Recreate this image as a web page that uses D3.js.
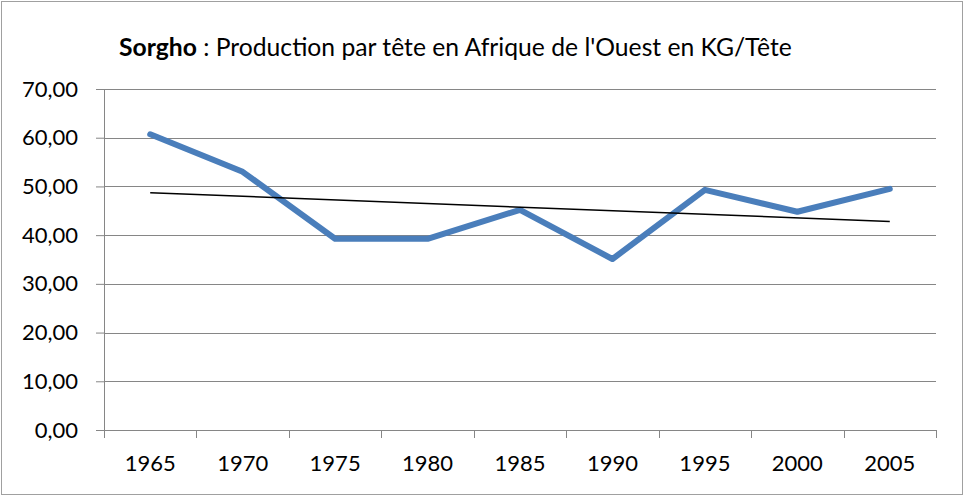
<!DOCTYPE html>
<html>
<head>
<meta charset="utf-8">
<script src="https://cdn.jsdelivr.net/npm/d3@7"></script>
<style>
  body { margin: 0; background: #fff; }
  text { font-family: Lato, "Open Sans", sans-serif; fill: #000; }
  .grid line { stroke: #868686; stroke-width: 1; }
  .axis path, .axis line { stroke: #868686; stroke-width: 1; }
  .axis text { font-size: 22px; }
</style>
</head>
<body>
<script>
//// DATA
var years = ["1965", "1970", "1975", "1980", "1985", "1990", "1995", "2000", "2005"];
var production = [60.7, 53.0, 39.25, 39.25, 45.2, 35.1, 49.3, 44.8, 49.5];
// Trendline end points (first and last year)
var trendYears = ["1965", "2005"];
var trendValues = [48.7, 42.8];
var yTicks = [0, 10, 20, 30, 40, 50, 60, 70];

//// DIMENSIONS
var W = 965, H = 496;
var margin = {top: 89, right: 29, bottom: 66, left: 104},
    width = W - margin.left - margin.right,
    height = H - margin.top - margin.bottom;

var svg = d3.select("body").append("svg")
    .attr("width", W)
    .attr("height", H);

// Outer border
svg.append("rect")
    .attr("x", 1.5).attr("y", 1.5)
    .attr("width", W - 4).attr("height", H - 3)
    .attr("fill", "none")
    .attr("stroke", "#a0a0a0")
    .attr("stroke-width", 1);

var g = svg.append("g")
    .attr("transform", "translate(" + margin.left + "," + margin.top + ")");

// Scales
var x = d3.scaleBand().domain(years).range([0, width]);
var y = d3.scaleLinear().domain([0, 70]).range([height, 0]);
var fmt = function(d) { return d3.format(".2f")(d).replace(".", ","); };

// Gridlines
g.append("g")
    .attr("class", "grid")
  .selectAll("line")
    .data(yTicks.filter(function(d) { return d > 0; }))
  .enter().append("line")
    .attr("x1", 0)
    .attr("x2", width)
    .attr("y1", function(d) { return Math.round(y(d)) + 0.5; })
    .attr("y2", function(d) { return Math.round(y(d)) + 0.5; });

// Y axis
var yAxis = g.append("g")
    .attr("class", "axis y")
    .call(d3.axisLeft(y).tickValues(yTicks).tickFormat(fmt).tickSize(8).tickSizeOuter(0).tickPadding(18));

// X axis with ticks on category boundaries
var xAxis = g.append("g")
    .attr("class", "axis x")
    .attr("transform", "translate(0," + height + ")")
    .call(d3.axisBottom(x).tickSize(0).tickPadding(25));
xAxis.selectAll(".bound")
    .data(d3.range(years.length + 1))
  .enter().append("line")
    .attr("class", "bound")
    .attr("x1", function(i) { return Math.round(i * x.step()) + 0.5; })
    .attr("x2", function(i) { return Math.round(i * x.step()) + 0.5; })
    .attr("y1", 0)
    .attr("y2", 8);

// Series line
var line = d3.line()
    .x(function(d, i) { return x(years[i]) + x.bandwidth() / 2; })
    .y(function(d) { return y(d); });

g.append("path")
    .datum(production)
    .attr("fill", "none")
    .attr("stroke", "#4a7ebb")
    .attr("stroke-width", 6)
    .attr("stroke-linejoin", "round")
    .attr("stroke-linecap", "round")
    .attr("d", line);

// Trendline
var trend = d3.line()
    .x(function(d, i) { return x(trendYears[i]) + x.bandwidth() / 2; })
    .y(function(d) { return y(d); });

g.append("path")
    .datum(trendValues)
    .attr("fill", "none")
    .attr("stroke", "#000")
    .attr("stroke-width", 1.5)
    .attr("d", trend);

// Title
var title = svg.append("text")
    .attr("x", 119)
    .attr("y", 56)
    .attr("font-size", "24.7px");
title.append("tspan").attr("font-weight", "bold").text("Sorgho");
title.append("tspan").text(" : Production par tête en Afrique de l'Ouest en KG/Tête");
</script>
</body>
</html>
